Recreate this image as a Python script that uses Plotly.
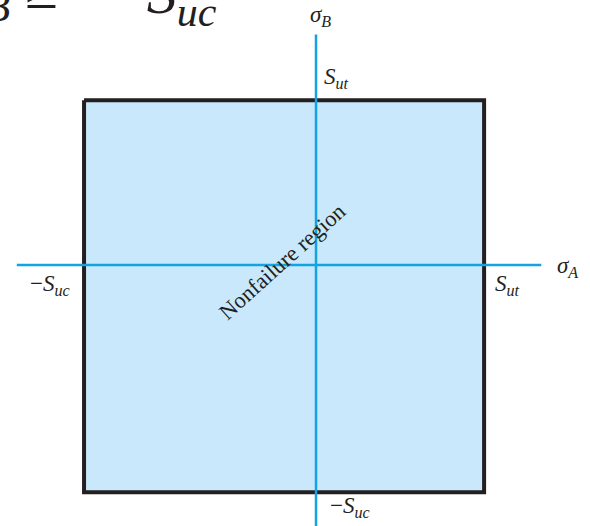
import plotly.graph_objects as go

# Strength values (normalised to the ultimate tensile strength)
S_ut = 1.0
S_uc = 1.38

# Extents of the principal-stress axes drawn through the origin
axis_a_span = [-1.78, 1.34]
axis_b_span = [-1.70, 1.40]

INK = "#231f20"
CYAN = "#12a3e3"
FILL = "#c9e8fb"
SERIF = "Liberation Serif"

fig = go.Figure()

# Nonfailure rectangle bounded by the strengths
rect_x = [-S_uc, S_ut, S_ut, -S_uc, -S_uc]
rect_y = [S_ut, S_ut, -S_uc, -S_uc, S_ut]
fig.add_trace(go.Scatter(x=rect_x, y=rect_y, mode="lines", fill="toself",
                         fillcolor=FILL, line=dict(color=INK, width=4),
                         hoverinfo="skip", showlegend=False))

# sigma_A and sigma_B axes
fig.add_trace(go.Scatter(x=axis_a_span, y=[0, 0], mode="lines",
                         line=dict(color=CYAN, width=2.5), showlegend=False,
                         hoverinfo="skip"))
fig.add_trace(go.Scatter(x=[0, 0], y=axis_b_span, mode="lines",
                         line=dict(color=CYAN, width=2.5), showlegend=False,
                         hoverinfo="skip"))

lab = dict(family=SERIF, size=23, color=INK)
ann = [
    dict(x=0, y=axis_b_span[1], text="<i>σ<sub>B</sub></i>", xshift=4, yshift=18),
    dict(x=axis_a_span[1], y=0, text="<i>σ<sub>A</sub></i>", xshift=26, yshift=-2),
    dict(x=0, y=S_ut, text="<i>S<sub>ut</sub></i>", xshift=20, yshift=22),
    dict(x=S_ut, y=0, text="<i>S<sub>ut</sub></i>", xshift=23, yshift=-20),
    dict(x=-S_uc, y=0, text="−<i>S<sub>uc</sub></i>", xshift=-34, yshift=-20),
    dict(x=0, y=-S_uc, text="−<i>S<sub>uc</sub></i>", xshift=34, yshift=-15),
]
annotations = [dict(a, xref="x", yref="y", xanchor="center", yanchor="middle",
                    showarrow=False, font=lab) for a in ann]

annotations.append(dict(x=-0.2, y=0.02, xref="x", yref="y", text="Nonfailure region",
                        textangle=-42, showarrow=False,
                        font=dict(family=SERIF, size=22.5, color=INK)))

# Inequality heading running off the top edge
head = dict(family=SERIF, size=60, color=INK)
annotations.append(dict(x=60 / 590, y=1 - 32 / 526, xref="paper", yref="paper",
                        text="<i>σ<sub>B</sub></i> ≥", xanchor="right",
                        yanchor="bottom", showarrow=False, font=head))
annotations.append(dict(x=219 / 590, y=1 - 37 / 526, xref="paper", yref="paper",
                        text="−<i>S<sub>uc</sub></i>", xanchor="right",
                        yanchor="bottom", showarrow=False, font=head))

fig.update_layout(
    width=590, height=526,
    margin=dict(l=0, r=0, t=0, b=0),
    paper_bgcolor="white", plot_bgcolor="white",
    xaxis=dict(range=[-1.880, 1.630], visible=False, fixedrange=True),
    yaxis=dict(range=[-1.585, 1.609], visible=False, fixedrange=True),
    annotations=annotations,
    showlegend=False,
)

fig.write_html("out.html")
